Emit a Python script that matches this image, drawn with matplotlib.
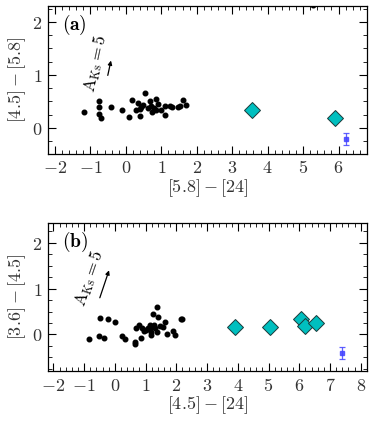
import matplotlib
matplotlib.use("Agg")
import matplotlib.pyplot as plt
from matplotlib.ticker import MultipleLocator, FuncFormatter

plt.rcParams['mathtext.fontset'] = 'cm'
plt.rcParams['font.family'] = 'serif'
plt.rcParams['font.serif'] = ['DejaVu Serif']

# Panel (a): [5.8]-[24] vs [4.5]-[5.8]
a_dots_x = [-1.17, -0.75, -0.77, -0.75, -0.70, -0.41, -0.11, 0.09, 0.18, 0.30, 0.33, 0.41,
            0.44, 0.49, 0.55, 0.68, 0.72, 0.79, 0.85, 0.86, 0.91, 0.98, 1.10, 1.10, 1.24,
            1.29, 1.47, 1.52, 1.61, 1.69, 0.62, 0.75, 0.40, 5.28]
a_dots_y = [0.30, 0.50, 0.40, 0.26, 0.18, 0.40, 0.34, 0.21, 0.52, 0.34, 0.47, 0.22,
            0.40, 0.43, 0.65, 0.50, 0.41, 0.37, 0.54, 0.34, 0.45, 0.34, 0.25, 0.41, 0.41,
            0.39, 0.39, 0.41, 0.53, 0.43, 0.38, 0.30, 0.36, 2.31]
a_dia_x = [3.56, 5.91]
a_dia_y = [0.33, 0.19]
a_err = (6.20, -0.21, 0.115)

# Panel (b): [4.5]-[24] vs [3.6]-[4.5]
b_dots_x = [-0.84, -0.49, -0.51, -0.35, -0.22, 0.02, 0.24, 0.32, 0.65, 0.67, 0.70, 0.79,
            0.84, 0.87, 0.94, 1.00, 1.16, 1.19, 1.19, 1.25, 1.27, 1.30, 1.36, 1.36, 1.41,
            1.46, 1.55, 1.63, 1.68, 1.88, 1.97, 2.15, 2.20, 1.08, 1.14]
b_dots_y = [-0.10, 0.36, -0.04, -0.07, 0.33, 0.26, -0.04, -0.09, -0.16, -0.20, 0.15, 0.20,
            -0.07, 0.13, 0.07, 0.09, 0.17, 0.06, -0.02, 0.44, 0.20, 0.13, 0.60, 0.06, 0.38,
            0.18, 0.17, 0.26, 0.00, 0.07, -0.02, 0.33, 0.33, 0.14, 0.20]
b_dia_x = [3.92, 5.04, 6.07, 6.20, 6.54]
b_dia_y = [0.16, 0.17, 0.33, 0.18, 0.24]
b_err = (7.39, -0.41, 0.135)

fig = plt.figure(figsize=(3.74, 4.25), dpi=100)
ax1 = fig.add_axes([0.128, 0.638, 0.853, 0.348])
ax2 = fig.add_axes([0.128, 0.127, 0.853, 0.349])

FS = 13
fmt = FuncFormatter(lambda v, p: r'$%d$' % int(round(v)))

def style(ax, xlim, ylim, xlabel, ylabel):
    ax.set_xlim(*xlim)
    ax.set_ylim(*ylim)
    ax.xaxis.set_major_locator(MultipleLocator(1))
    ax.xaxis.set_minor_locator(MultipleLocator(0.2))
    ax.yaxis.set_major_locator(MultipleLocator(1))
    ax.yaxis.set_minor_locator(MultipleLocator(0.25))
    ax.xaxis.set_major_formatter(fmt)
    ax.yaxis.set_major_formatter(fmt)
    ax.tick_params(which='both', direction='in', top=True, right=True, labelsize=FS,
                   colors='black', labelcolor='#333333')
    ax.tick_params(which='major', length=5.5, width=0.8, pad=4)
    ax.tick_params(which='minor', length=2.8, width=0.6)
    ax.set_xlabel(xlabel, fontsize=FS, labelpad=0, color='#333333')
    ax.set_ylabel(ylabel, fontsize=FS, labelpad=3, color='#333333')
    for s in ax.spines.values():
        s.set_linewidth(0.9)

def draw(ax, dx, dy, ix, iy, err, arrow, txt_xy, rot, label):
    ax.plot(dx, dy, 'o', color='black', markersize=3.3, linestyle='none')
    ax.plot(ix, iy, 'D', markerfacecolor='#00bfbf', markeredgecolor='#1a3a3a',
            markeredgewidth=0.7, markersize=8.3, linestyle='none')
    ax.errorbar([err[0]], [err[1]], yerr=[err[2]], fmt='s', color='#4444ff', markersize=2.5,
                capsize=2.5, elinewidth=0.9, capthick=0.9, alpha=0.85)
    ax.annotate('', xy=arrow[1], xytext=arrow[0],
                arrowprops=dict(arrowstyle='-|>', color='black', lw=0.9,
                                mutation_scale=6, shrinkA=0, shrinkB=0))
    ax.text(txt_xy[0], txt_xy[1], r'$\mathrm{A}_{\mathrm{Ks}}=5$', rotation=rot,
            fontsize=FS - 0.5, ha='center', va='center', rotation_mode='anchor')
    ax.text(0.045, 0.87, label, transform=ax.transAxes, fontsize=FS + 1, ha='left', va='center')

style(ax1, (-2.2, 6.8), (-0.49, 2.3), r'$[5.8]-[24]$', r'$[4.5]-[5.8]$')
draw(ax1, a_dots_x, a_dots_y, a_dia_x, a_dia_y, a_err,
     ((-0.51, 0.99), (-0.42, 1.27)), (-0.87, 1.22), 78, r'$\mathbf{(a)}$')

style(ax2, (-2.18, 8.2), (-0.8, 2.44), r'$[4.5]-[24]$', r'$[3.6]-[4.5]$')
draw(ax2, b_dots_x, b_dots_y, b_dia_x, b_dia_y, b_err,
     ((-0.49, 0.80), (-0.19, 1.40)), (-0.83, 1.22), 71, r'$\mathbf{(b)}$')

fig.savefig('out.png', dpi=100)
